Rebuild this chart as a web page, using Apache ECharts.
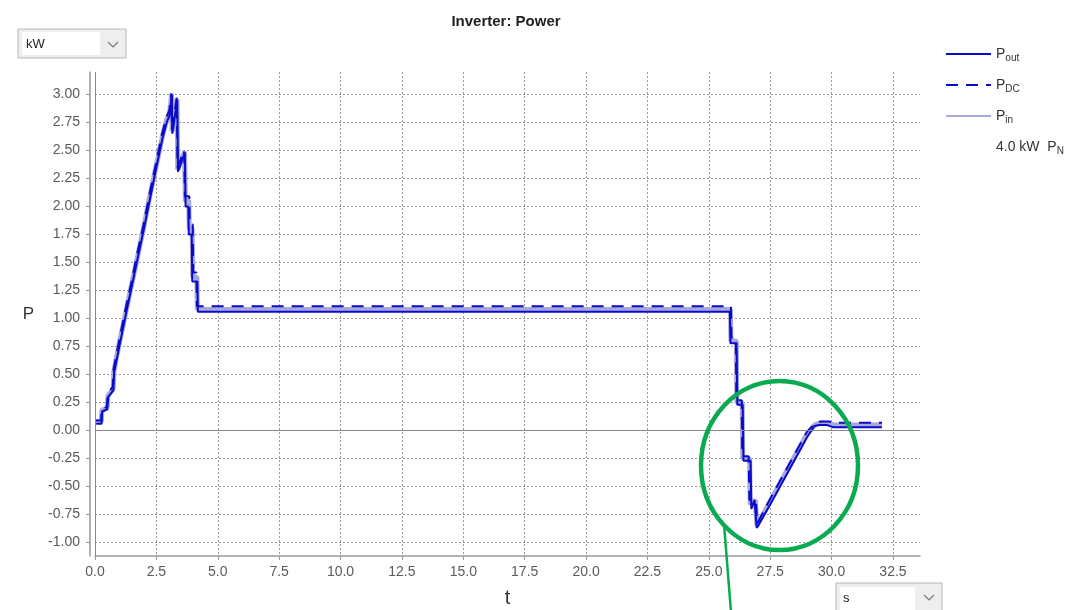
<!DOCTYPE html>
<html>
<head>
<meta charset="utf-8">
<script src="https://cdn.jsdelivr.net/npm/echarts@6/dist/echarts.min.js"></script>
<style>
html,body{margin:0;padding:0;background:#fff;}
#chart{width:1071px;height:610px;}
</style>
</head>
<body>
<div id="chart"></div>
<script>
// ---- data (t in s, P in kW) ----
const pOut = [
  [0.05,0.06],[0.27,0.06],[0.29,0.17],[0.50,0.19],[0.54,0.30],[0.75,0.36],[0.78,0.52],
  [1.00,0.76],[1.25,1.03],[1.50,1.29],[1.75,1.55],[2.00,1.81],[2.25,2.08],[2.50,2.35],
  [2.75,2.61],[2.92,2.75],[3.05,2.82],[3.13,3.00],[3.15,2.65],[3.35,2.95],[3.38,2.31],
  [3.66,2.48],[3.69,2.00],[3.80,2.00],[3.82,1.75],[3.94,1.75],[3.96,1.33],[4.17,1.33],
  [4.19,1.06],[25.86,1.06],[25.88,0.78],[26.13,0.78],[26.16,0.23],[26.38,0.23],
  [26.41,-0.27],[26.70,-0.27],[26.73,-0.70],[26.86,-0.62],[26.95,-0.87],[27.5,-0.66],
  [28.0,-0.46],[28.5,-0.26],[29.0,-0.06],[29.3,0.04],[29.5,0.05],[29.8,0.05],[30.05,0.03],
  [32.05,0.03]
];
const pDC = [
  [0.03,0.09],[0.25,0.09],[0.27,0.19],[0.48,0.21],[0.52,0.33],[0.72,0.39],[0.76,0.55],
  [0.98,0.80],[1.22,1.06],[1.48,1.32],[1.72,1.58],[1.98,1.84],[2.22,2.11],[2.48,2.38],
  [2.72,2.64],[2.90,2.79],[3.03,2.86],[3.11,3.01],[3.13,2.69],[3.33,2.97],[3.36,2.35],
  [3.63,2.50],[3.66,2.09],[3.84,2.09],[3.86,1.84],[3.98,1.84],[4.00,1.41],[4.13,1.41],
  [4.15,1.11],[25.90,1.11],[25.92,0.83],[26.10,0.83],[26.12,0.27],[26.34,0.27],
  [26.36,-0.23],[26.62,-0.23],[26.65,-0.62],[26.92,-0.62],[26.97,-0.83],[27.5,-0.61],
  [28.0,-0.41],[28.5,-0.21],[29.0,-0.01],[29.35,0.07],[29.6,0.08],[29.9,0.08],[30.1,0.07],
  [32.05,0.07]
];
const pIn = [
  [0.04,0.08],[0.26,0.08],[0.28,0.18],[0.49,0.20],[0.53,0.31],[0.74,0.37],[0.77,0.53],
  [0.99,0.78],[1.24,1.04],[1.49,1.30],[1.74,1.56],[1.99,1.82],[2.24,2.10],[2.49,2.36],
  [2.74,2.62],[2.91,2.77],[3.04,2.84],[3.12,3.00],[3.14,2.67],[3.34,2.96],[3.37,2.33],
  [3.65,2.49],[3.68,2.05],[3.82,2.05],[3.84,1.80],[3.96,1.80],[3.98,1.37],[4.15,1.37],
  [4.17,1.08],[25.88,1.08],[25.90,0.80],[26.12,0.80],[26.14,0.25],[26.36,0.25],
  [26.38,-0.25],[26.66,-0.25],[26.69,-0.66],[26.89,-0.62],[26.96,-0.85],[27.5,-0.63],
  [28.0,-0.43],[28.5,-0.23],[29.0,-0.03],[29.32,0.05],[29.55,0.07],[29.85,0.06],[30.1,0.05],
  [32.05,0.05]
];
const pN = [];
const seriesNames = ['Pout','PDC','Pin','PN'];
const legendMain = ['P','P','P','4.0 kW  P'];
const legendSub = ['out','DC','in','N'];
const titleText = 'Inverter: Power';
const xName = 't';
const yName = 'P';
const yUnit = 'kW';
const xUnit = 's';

const FONT = 'Liberation Sans, Arial, sans-serif';
const BLUE = '#0a0acc';
const chart = echarts.init(document.getElementById('chart'), null, {renderer:'canvas'});

const option = {
  animation: false,
  backgroundColor: '#ffffff',
  title: {
    text: titleText, left: 501, top: 9, textAlign: 'center',
    textStyle: {fontFamily: FONT, fontSize: 15, fontWeight: 'bold', color: '#222'}
  },
  grid: {left: 95, right: 151, top: 72, bottom: 54, containLabel: false, outerBoundsMode: 'none'},
  legend: {
    orient: 'vertical', left: 940, top: 40, itemWidth: 45, itemHeight: 14, itemGap: 13,
    data: seriesNames.map((n, i) => ({name: n, icon: i === 3 ? 'none' : undefined})),
    itemStyle: {opacity: 0},
    formatter: function (name) {
      const i = seriesNames.indexOf(name);
      return '{m|' + legendMain[i] + '}{s|' + legendSub[i] + '}';
    },
    textStyle: {
      fontFamily: FONT, color: '#333',
      rich: {
        m: {fontFamily: FONT, fontSize: 14, color: '#333', lineHeight: 18},
        s: {fontFamily: FONT, fontSize: 10, color: '#333', lineHeight: 18, padding: [8, 0, 0, 0]}
      }
    },
    selectedMode: false
  },
  xAxis: {
    type: 'value', min: 0, max: 33.6, interval: 2.5,
    name: xName, nameLocation: 'middle', nameGap: 32,
    nameTextStyle: {fontFamily: FONT, fontSize: 20, color: '#333'},
    axisLine: {show: true, onZero: false, lineStyle: {color: '#999', width: 1.5}},
    axisTick: {show: true, length: 4, lineStyle: {color: '#999'}},
    axisLabel: {fontFamily: FONT, fontSize: 14, color: '#5a5a5a', margin: 9, showMaxLabel: false,
      formatter: v => v.toFixed(1)},
    splitLine: {show: true, showMaxLine: false, showMinLine: false,
      lineStyle: {color: '#9a9a9a', type: [2, 2], width: 1}}
  },
  yAxis: {
    type: 'value', min: -1.12, max: 3.2, minInterval: 0.25, maxInterval: 0.25, offset: 5,
    name: yName, nameLocation: 'middle', nameGap: 56, nameRotate: 0,
    nameTextStyle: {fontFamily: FONT, fontSize: 17, color: '#333'},
    axisLine: {show: true, onZero: false, lineStyle: {color: '#999', width: 1.5}},
    axisTick: {show: true, length: 4, lineStyle: {color: '#999'}},
    axisLabel: {fontFamily: FONT, fontSize: 14, color: '#5a5a5a', margin: 10,
      showMaxLabel: false, showMinLabel: false,
      formatter: v => v.toFixed(2)},
    splitLine: {show: true, showMaxLine: false, showMinLine: false,
      lineStyle: {color: '#9a9a9a', type: [2, 2], width: 1}}
  },
  series: [
    {
      name: 'Pin', type: 'line', data: pIn, showSymbol: false, symbol: 'none', z: 2,
      lineStyle: {color: '#a8a8d8', width: 5}, itemStyle: {color: '#a8a8d8'}
    },
    {
      name: 'PDC', type: 'line', data: pDC, showSymbol: false, symbol: 'none', z: 3,
      lineStyle: {color: BLUE, width: 2, type: [12, 8]}, itemStyle: {color: BLUE}
    },
    {
      name: 'Pout', type: 'line', data: pOut, showSymbol: false, symbol: 'none', z: 4,
      lineStyle: {color: BLUE, width: 2}, itemStyle: {color: BLUE},
      markLine: {
        silent: true, symbol: 'none', label: {show: false},
        lineStyle: {color: '#888', type: 'solid', width: 1},
        data: [{yAxis: 0}, {xAxis: 0}]
      }
    },
    {
      name: 'PN', type: 'line', data: pN, showSymbol: false, symbol: 'none',
      lineStyle: {color: 'rgba(0,0,0,0)', width: 0}, itemStyle: {color: 'rgba(0,0,0,0)'}
    }
  ],
  graphic: [
    // unit selector (y)
    {type: 'rect', shape: {x: 18, y: 29, width: 108, height: 29}, style: {fill: '#eeeeee', stroke: '#b8b8b8', lineWidth: 1}, z: 50},
    {type: 'rect', shape: {x: 22, y: 32, width: 78, height: 23}, style: {fill: '#ffffff'}, z: 51},
    {type: 'text', x: 26, y: 44, style: {text: yUnit, font: '13px ' + FONT, fill: '#222', verticalAlign: 'middle'}, z: 52},
    {type: 'polyline', shape: {points: [[108, 42], [113, 47], [118, 42]]}, style: {stroke: '#777', lineWidth: 1.2, fill: null}, z: 52},
    // unit selector (x)
    {type: 'rect', shape: {x: 836, y: 583, width: 106, height: 30}, style: {fill: '#eeeeee', stroke: '#b8b8b8', lineWidth: 1}, z: 50},
    {type: 'rect', shape: {x: 840, y: 587, width: 75, height: 23}, style: {fill: '#ffffff'}, z: 51},
    {type: 'text', x: 843, y: 598, style: {text: xUnit, font: '13px ' + FONT, fill: '#222', verticalAlign: 'middle'}, z: 52},
    {type: 'polyline', shape: {points: [[924, 595], [929, 600], [934, 595]]}, style: {stroke: '#777', lineWidth: 1.2, fill: null}, z: 52},
    // green annotation
    {type: 'ellipse', shape: {cx: 779.5, cy: 465.5, rx: 78.5, ry: 84.5}, style: {fill: null, stroke: '#0aaa50', lineWidth: 4.5}, z: 60},
    {type: 'line', shape: {x1: 724, y1: 524, x2: 731, y2: 612}, style: {stroke: '#0aaa50', lineWidth: 2.5}, z: 60}
  ]
};
chart.setOption(option);
</script>
</body>
</html>
